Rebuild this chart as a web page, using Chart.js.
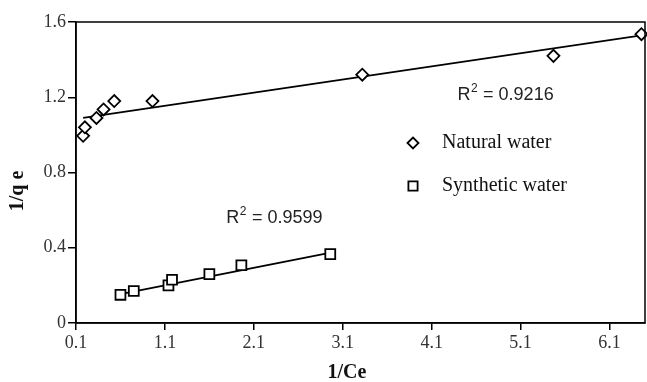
<!DOCTYPE html>
<html lang="en">
<head>
    <script src="https://cdn.jsdelivr.net/npm/chart.js"></script>
    <style>
        html, body { margin: 0; padding: 0; background: #fff; }
        #container { width: 647px; height: 382px; position: relative; }
    </style>
</head>
<body>
    <div id="container">
        <canvas id="myChart" width="647" height="382"></canvas>
    </div>

    <script>
        // Natural water points
        const naturalX = [0.18, 0.20, 0.33, 0.41, 0.53, 0.96, 3.32, 5.47, 6.46];
        const naturalY = [0.995, 1.04, 1.09, 1.135, 1.18, 1.18, 1.32, 1.42, 1.535];
        // Synthetic water points
        const syntheticX = [0.60, 0.75, 1.14, 1.18, 1.60, 1.96, 2.96];
        const syntheticY = [0.15, 0.17, 0.20, 0.23, 0.26, 0.307, 0.366];
        // trend line end points
        const naturalFitX = [0.18, 6.5];
        const naturalFitY = [1.09, 1.532];
        const syntheticFitX = [0.60, 2.98];
        const syntheticFitY = [0.154, 0.376];
        // ticks
        const xTicks = [0.1, 1.1, 2.1, 3.1, 4.1, 5.1, 6.1];
        const yTicks = [0, 0.4, 0.8, 1.2, 1.6];
        const yLabels = ['0', '0.4', '0.8', '1.2', '1.6'];
        const r2Values = ['0.9216', '0.9599'];
        const seriesNames = ['Natural water', 'Synthetic water'];
        const xTitle = '1/Ce';
        const yTitle = '1/q e';

        const toPts = (xs, ys) => xs.map((x, i) => ({ x: x, y: ys[i] }));
        const serif = '"Liberation Serif", "Times New Roman", serif';

        // R^2 written with a raised small 2
        function drawR2(c, text, x, y) {
            c.font = '18px "Liberation Sans", Arial, sans-serif';
            c.fillText('R', x, y);
            let w = c.measureText('R').width;
            c.font = '12px "Liberation Sans", Arial, sans-serif';
            c.fillText('2', x + w + 0.5, y - 6);
            w += c.measureText('2').width + 1;
            c.font = '18px "Liberation Sans", Arial, sans-serif';
            c.fillText(' = ' + text, x + w, y);
        }

        // frame, titles, R2 texts and legend inside the plot
        const extras = {
            id: 'extras',
            afterDraw(chart) {
                const c = chart.ctx;
                const a = chart.chartArea;
                const xs = chart.scales.x, ys = chart.scales.y;
                c.save();
                c.strokeStyle = '#000';
                c.lineWidth = 1.5;
                c.strokeRect(a.left, a.top, a.right - a.left, a.bottom - a.top);

                // axis titles
                c.fillStyle = '#111';
                c.font = 'bold 20px ' + serif;
                c.textAlign = 'center';
                c.textBaseline = 'middle';
                c.fillText(xTitle, 347, 373);
                c.save();
                c.translate(18, 191);
                c.rotate(-Math.PI / 2);
                c.fillText(yTitle, 0, 0);
                c.restore();

                c.fillStyle = '#222';
                c.textAlign = 'left';
                drawR2(c, r2Values[0], xs.getPixelForValue(4.39), ys.getPixelForValue(1.213));
                drawR2(c, r2Values[1], xs.getPixelForValue(1.79), ys.getPixelForValue(0.559));

                // legend
                const lx = 413;
                const rows = [143, 186];
                const styles = ['rectRot', 'rect'];
                rows.forEach((ly, i) => {
                    c.lineWidth = 1.8;
                    c.strokeStyle = '#000';
                    c.fillStyle = '#fff';
                    Chart.helpers.drawPoint(c, { pointStyle: styles[i], radius: i === 0 ? 5.5 : 6.5, borderWidth: 1.8 }, lx, ly);
                    c.fillStyle = '#111';
                    c.font = '20px ' + serif;
                    c.fillText(seriesNames[i], 442, ly);
                });
                c.restore();
            }
        };

        const ctx = document.getElementById('myChart').getContext('2d');
        const chart = new Chart(ctx, {
            type: 'scatter',
            data: {
                datasets: [
                    {
                        label: seriesNames[0],
                        data: toPts(naturalX, naturalY),
                        pointStyle: 'rectRot',
                        pointRadius: 6,
                        backgroundColor: '#fff',
                        borderColor: '#000',
                        borderWidth: 1.8,
                        clip: false,
                        order: 1
                    },
                    {
                        label: seriesNames[1],
                        data: toPts(syntheticX, syntheticY),
                        pointStyle: 'rect',
                        pointRadius: 7,
                        backgroundColor: '#fff',
                        borderColor: '#000',
                        borderWidth: 1.8,
                        order: 1
                    },
                    {
                        label: 'fit1',
                        data: toPts(naturalFitX, naturalFitY),
                        showLine: true,
                        pointRadius: 0,
                        borderColor: '#000',
                        borderWidth: 1.8,
                        order: 2
                    },
                    {
                        label: 'fit2',
                        data: toPts(syntheticFitX, syntheticFitY),
                        showLine: true,
                        pointRadius: 0,
                        borderColor: '#000',
                        borderWidth: 1.8,
                        order: 2
                    }
                ]
            },
            options: {
                responsive: false,
                animation: false,
                layout: { autoPadding: false, padding: { top: 22, right: 2, left: 0, bottom: 0 } },
                plugins: {
                    legend: { display: false },
                    tooltip: { enabled: false }
                },
                scales: {
                    x: {
                        type: 'linear',
                        min: 0.1,
                        max: 6.5,
                        afterBuildTicks: s => { s.ticks = xTicks.map(v => ({ value: v })); },
                        afterFit: s => { s.height = 59; },
                        ticks: {
                            color: '#333',
                            font: { family: serif, size: 18 },
                            padding: 2,
                            maxRotation: 0,
                            callback: v => v.toFixed(1)
                        },
                        grid: { drawOnChartArea: false, drawTicks: true, tickLength: 7, color: '#000', lineWidth: 1.5 },
                        border: { display: true, color: '#000', width: 1.5 }
                    },
                    y: {
                        type: 'linear',
                        min: 0,
                        max: 1.6,
                        afterBuildTicks: s => { s.ticks = yTicks.map(v => ({ value: v })); },
                        afterFit: s => { s.width = 76; },
                        ticks: {
                            color: '#333',
                            font: { family: serif, size: 18 },
                            padding: 2,
                            callback: v => yLabels[yTicks.indexOf(v)]
                        },
                        grid: { drawOnChartArea: false, drawTicks: true, tickLength: 8, color: '#000', lineWidth: 1.5 },
                        border: { display: true, color: '#000', width: 1.5 }
                    }
                }
            },
            plugins: [extras]
        });
    </script>
</body>
</html>
